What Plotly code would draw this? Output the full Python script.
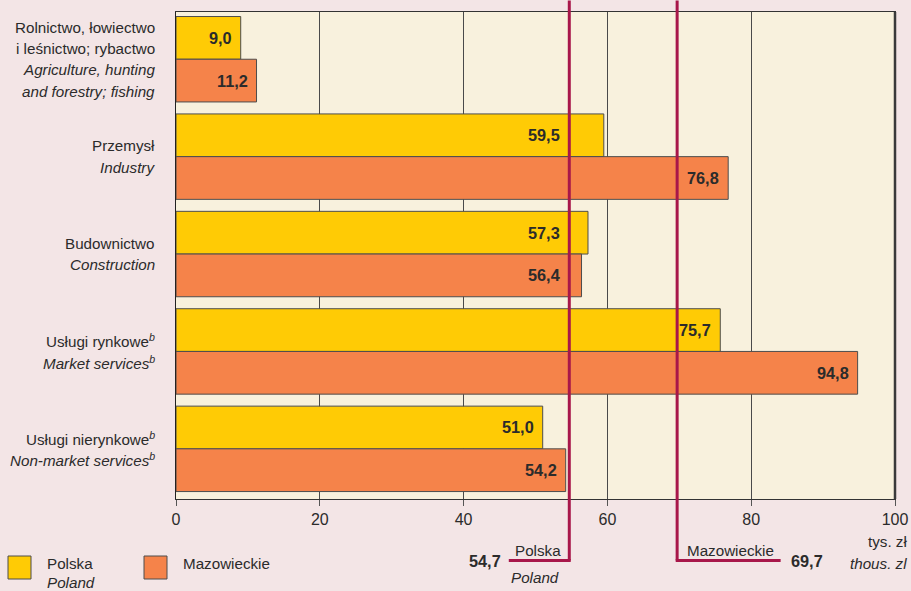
import plotly.graph_objects as go

# ---- data ----
categories_pl = [
    ["Rolnictwo, łowiectwo", "i leśnictwo; rybactwo"],
    ["Przemysł"],
    ["Budownictwo"],
    ["Usługi rynkowe<sup><i>b</i></sup>"],
    ["Usługi nierynkowe<sup><i>b</i></sup>"],
]
categories_en = [
    ["Agriculture, hunting", "and forestry; fishing"],
    ["Industry"],
    ["Construction"],
    ["Market services<sup>b</sup>"],
    ["Non-market services<sup>b</sup>"],
]
polska = [9.0, 59.5, 57.3, 75.7, 51.0]
mazowieckie = [11.2, 76.8, 56.4, 94.8, 54.2]
avg_polska = 54.7
avg_mazowieckie = 69.7
x_ticks = [0, 20, 40, 60, 80, 100]

# ---- style ----
W, H = 911, 591
ML, MR, MT, MB = 176, 16, 12, 92
PW, PH = W - ML - MR, H - MT - MB
FONT = "'Liberation Sans', Arial, sans-serif"
TXT = "#2b2b2b"
YELLOW = "#ffcb05"
ORANGE = "#f5834a"
RED = "#a8174a"
PAGE_BG = "#f3e5e6"
PLOT_BG = "#f8f1dd"
LBL = 15.2
VAL = 16.3
BARGAP = 0.123


def px_x(p):
    return (p - ML) / PW


def px_y(p):
    return (MT + PH - p) / PH


def fmt(v):
    return f"{v:.1f}".replace(".", ",")


idx = list(range(len(polska)))
fig = go.Figure()
for name, vals, col in [("Polska", polska, YELLOW), ("Mazowieckie", mazowieckie, ORANGE)]:
    fig.add_trace(go.Bar(
        y=idx, x=vals, orientation="h", name=name,
        marker=dict(color=col, line=dict(color="#4d4d4d", width=1)),
        showlegend=False, hoverinfo="skip",
    ))

ann = []
# value labels (right-aligned at bar end, kept clear of the average lines)
label_w = 40 / PW * 100  # approx. label width + padding, in axis units
half = (1 - BARGAP) / 4
for series, off in [(polska, -half), (mazowieckie, half)]:
    for i, v in zip(idx, series):
        end = v
        for line_x in (avg_polska, avg_mazowieckie):
            if end - label_w < line_x < end:
                end = line_x
        ann.append(dict(
            x=end, xref="x", y=i + off, yref="y", xanchor="right", yanchor="middle",
            xshift=-7, text=f"<b>{fmt(v)}</b>", showarrow=False,
            font=dict(family=FONT, size=VAL, color=TXT),
        ))

# category labels
LX = px_x(157)
for i in idx:
    lines = [(t, False) for t in categories_pl[i]] + [(t, True) for t in categories_en[i]]
    n = len(lines)
    step = 21.3
    for k, (t, it) in enumerate(lines):
        off = (k - (n - 1) / 2) * step
        ann.append(dict(
            x=LX, xref="paper", y=i, yref="y", yshift=-off,
            text=(f"<i>{t}</i>" if it else t), showarrow=False,
            xanchor="right", yanchor="middle",
            font=dict(family=FONT, size=LBL, color=TXT),
        ))


def add_text(px, py, text, anchor="center", italic=False, bold=False, size=LBL):
    t = text
    if italic:
        t = f"<i>{t}</i>"
    if bold:
        t = f"<b>{t}</b>"
    ann.append(dict(x=px_x(px), y=px_y(py), xref="paper", yref="paper", text=t,
                    showarrow=False, xanchor=anchor, yanchor="middle",
                    font=dict(family=FONT, size=size, color=TXT)))


add_text(538, 550, "Polska")
add_text(535, 577, "Poland", italic=True)
add_text(503, 561, fmt(avg_polska), anchor="right", bold=True, size=VAL)
add_text(730, 550, "Mazowieckie")
add_text(789, 561, fmt(avg_mazowieckie), anchor="left", bold=True, size=VAL)
add_text(909, 541, "tys. zł", anchor="right")
add_text(909, 563, "thous. zl", anchor="right", italic=True)
add_text(45, 563, "Polska", anchor="left")
add_text(45, 582.5, "Poland", anchor="left", italic=True)
add_text(181, 563, "Mazowieckie", anchor="left")

shapes = []
shapes.append(dict(type="line", xref="paper", yref="paper", x0=1, x1=1, y0=0, y1=1,
                   line=dict(color="#3a3a3a", width=2.5), layer="above"))
pol_end = avg_polska - (569.5 - 509) / PW * 100
maz_end = avg_mazowieckie + (781 - 677.5) / PW * 100
yb = px_y(560.5)
yt = px_y(0.5)
shapes += [
    dict(type="line", xref="x", yref="paper", x0=avg_polska, x1=avg_polska, y0=yt, y1=yb,
         line=dict(color=RED, width=3), layer="above"),
    dict(type="line", xref="x", yref="paper", x0=avg_polska + 0.2, x1=pol_end, y0=yb, y1=yb,
         line=dict(color=RED, width=3), layer="above"),
    dict(type="line", xref="x", yref="paper", x0=avg_mazowieckie, x1=avg_mazowieckie, y0=yt, y1=yb,
         line=dict(color=RED, width=3), layer="above"),
    dict(type="line", xref="x", yref="paper", x0=avg_mazowieckie - 0.2, x1=maz_end, y0=yb, y1=yb,
         line=dict(color=RED, width=3), layer="above"),
]
for x0, col in [(8, YELLOW), (144, ORANGE)]:
    shapes.append(dict(type="rect", xref="paper", yref="paper",
                       x0=px_x(x0), x1=px_x(x0 + 23), y0=px_y(579), y1=px_y(556),
                       fillcolor=col, line=dict(color="#4d4d4d", width=1)))

fig.update_layout(
    width=W, height=H,
    margin=dict(l=ML, r=MR, t=MT, b=MB, pad=0, autoexpand=False),
    paper_bgcolor=PAGE_BG, plot_bgcolor=PLOT_BG,
    barmode="group", bargap=BARGAP, bargroupgap=0,
    font=dict(family=FONT, size=LBL, color=TXT),
    annotations=ann, shapes=shapes, showlegend=False,
    xaxis=dict(range=[0, 100], tickvals=x_ticks, ticktext=[str(t) for t in x_ticks],
               showgrid=True, gridcolor="#4a4a4a", gridwidth=1, zeroline=False,
               showline=True, linecolor="#333333", linewidth=1, mirror=True,
               ticks="outside", ticklen=6, tickcolor="#555555",
               tickfont=dict(family=FONT, size=16, color=TXT), fixedrange=True),
    yaxis=dict(range=[4.5 + 0.015, -0.5 + 0.015], showticklabels=False, showgrid=False,
               zeroline=False, showline=True, linecolor="#222222", linewidth=1, mirror=True,
               ticks="", fixedrange=True),
)

fig.write_html("out.html", config={"displayModeBar": False},
               post_script="document.body.style.margin='0';")
